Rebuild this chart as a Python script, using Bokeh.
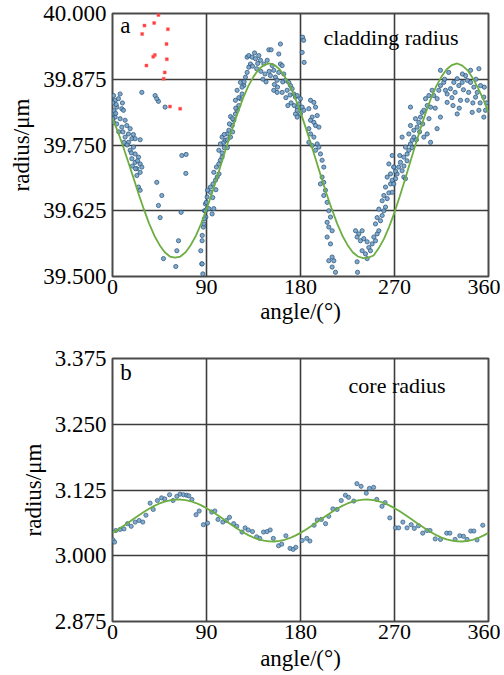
from bokeh.plotting import figure
from bokeh.layouts import column
from bokeh.models import Range1d, FixedTicker, PrintfTickFormatter, Label
from bokeh.embed import file_html
from bokeh.resources import INLINE

FONT = "Liberation Serif"
AX_FONT = "'Liberation Serif', 'Times New Roman', serif"

# ---------------- data ----------------
angle_ticks = [0, 90, 180, 270, 360]
clad_ticks = [39.5, 39.625, 39.75, 39.875, 40.0]
core_ticks = [2.875, 3.0, 3.125, 3.25, 3.375]

fit_angle = [0, 5, 10, 15, 20, 25, 30, 35, 40, 45, 50, 55, 60, 65, 70, 75, 80, 85, 90,
             95, 100, 105, 110, 115, 120, 125, 130, 135, 140, 145, 150, 155, 160, 165, 170, 175, 180,
             185, 190, 195, 200, 205, 210, 215, 220, 225, 230, 235, 240, 245, 250, 255, 260, 265, 270,
             275, 280, 285, 290, 295, 300, 305, 310, 315, 320, 325, 330, 335, 340, 345, 350, 355, 360]
clad_fit = [39.800, 39.776, 39.748, 39.718, 39.688, 39.657, 39.628, 39.601, 39.578, 39.560,
            39.546, 39.538, 39.536, 39.538, 39.546, 39.560, 39.578, 39.601, 39.628,
            39.657, 39.688, 39.720, 39.752, 39.783, 39.812, 39.839, 39.862, 39.880,
            39.894, 39.902, 39.905, 39.902, 39.894, 39.880, 39.862, 39.839, 39.812,
            39.783, 39.752, 39.720, 39.688, 39.657, 39.628, 39.601, 39.578, 39.560,
            39.546, 39.538, 39.535, 39.536, 39.540, 39.554, 39.572, 39.595, 39.622,
            39.652, 39.684, 39.717, 39.750, 39.782, 39.812, 39.839, 39.862, 39.880,
            39.894, 39.902, 39.905, 39.901, 39.892, 39.877, 39.858, 39.837, 39.812]
core_fit = [3.0435, 3.0495, 3.0560, 3.0628, 3.0698, 3.0767, 3.0833, 3.0894, 3.0948, 3.0994,
            3.1030, 3.1054, 3.1068, 3.1069, 3.1058, 3.1036, 3.1002, 3.0958, 3.0905,
            3.0845, 3.0780, 3.0712, 3.0642, 3.0573, 3.0507, 3.0446, 3.0392, 3.0346,
            3.0310, 3.0286, 3.0272, 3.0271, 3.0282, 3.0304, 3.0338, 3.0382, 3.0435,
            3.0495, 3.0560, 3.0628, 3.0698, 3.0767, 3.0833, 3.0894, 3.0948, 3.0994,
            3.1030, 3.1054, 3.1068, 3.1069, 3.1058, 3.1036, 3.1002, 3.0958, 3.0905,
            3.0845, 3.0780, 3.0712, 3.0642, 3.0573, 3.0507, 3.0446, 3.0392, 3.0346,
            3.0310, 3.0286, 3.0272, 3.0271, 3.0282, 3.0304, 3.0338, 3.0382, 3.0435]

# outlier points (red)
clad_red = [(44.0, 39.997), (30.6, 39.977), (39.9, 39.982), (53.0, 39.970), (28.4, 39.961),
            (51.7, 39.942), (40.5, 39.921), (39.0, 39.918), (52.0, 39.913), (32.5, 39.901),
            (50.0, 39.888), (49.0, 39.876), (55.0, 39.823), (64.8, 39.819)]

# measured cladding radius (blue)
clad_pts_a = [(1.0, 39.844), (2.6, 39.835), (7.3, 39.847), (5.7, 39.838), (4.1, 39.822), (8.9, 39.819),
              (1.0, 39.809), (2.6, 39.803), (10.5, 39.816), (7.3, 39.800), (12.1, 39.797), (1.0, 39.793),
              (13.7, 39.787), (8.9, 39.784), (16.9, 39.781), (15.3, 39.771), (12.1, 39.765), (18.5, 39.762),
              (21.7, 39.762), (26.5, 39.760), (15.3, 39.755), (20.1, 39.746), (16.9, 39.740), (21.7, 39.733),
              (24.9, 39.727), (18.5, 39.724), (21.7, 39.717), (26.5, 39.714), (23.3, 39.705), (26.5, 39.698),
              (28.1, 39.708), (23.3, 39.692), (0.5, 39.830), (1.5, 39.815), (3.0, 39.810), (0.3, 39.800),
              (4.0, 39.790), (6.0, 39.775), (10.0, 39.775), (11.0, 39.755), (14.0, 39.750), (18.0, 39.735),
              (19.0, 39.710), (22.0, 39.705), (24.0, 39.720), (20.0, 39.770), (3.5, 39.827), (9.5, 39.830),
              (28.1, 39.850), (40.8, 39.844), (44.0, 39.833), (42.4, 39.838), (50.4, 39.822), (66.4, 39.730),
              (70.5, 39.732), (70.2, 39.696), (42.4, 39.679), (24.9, 39.670), (26.5, 39.664), (47.2, 39.654),
              (44.0, 39.635), (45.6, 39.612), (65.7, 39.622), (63.2, 39.568), (61.6, 39.549), (48.8, 39.534),
              (60.6, 39.519), (85.5, 39.524), (84.5, 39.549), (85.9, 39.578), (87.0, 39.594), (89.4, 39.613),
              (88.0, 39.625), (89.0, 39.638), (86.5, 39.505)]
clad_pts_b = [(85.8, 39.568), (87.4, 39.600), (88.0, 39.610), (89.0, 39.625), (90.6, 39.629), (92.2, 39.629),
              (89.8, 39.641), (90.6, 39.651), (93.8, 39.660), (95.4, 39.619), (97.0, 39.629), (93.8, 39.670),
              (96.2, 39.676), (98.6, 39.683), (100.2, 39.689), (97.0, 39.698), (99.5, 39.708), (101.8, 39.714),
              (103.3, 39.721), (104.9, 39.727), (101.8, 39.740), (103.3, 39.752), (106.5, 39.755), (108.2, 39.759),
              (104.9, 39.765), (109.8, 39.771), (111.4, 39.778), (113.0, 39.765), (114.6, 39.787), (116.1, 39.797),
              (113.0, 39.804), (117.7, 39.809), (119.3, 39.816), (120.9, 39.825), (117.7, 39.835), (122.5, 39.838),
              (124.1, 39.847), (119.3, 39.854), (125.7, 39.863), (122.5, 39.869), (127.3, 39.879), (128.9, 39.888),
              (130.5, 39.898), (132.1, 39.904), (128.9, 39.917), (130.5, 39.920), (133.7, 39.917), (136.9, 39.914),
              (140.1, 39.920), (141.7, 39.911), (144.9, 39.904), (148.1, 39.911), (149.7, 39.931), (151.9, 39.931),
              (152.9, 39.901), (154.4, 39.892), (151.2, 39.882), (156.0, 39.879), (157.6, 39.873), (159.2, 39.888),
              (160.8, 39.942), (159.2, 39.923), (160.8, 39.904), (162.4, 39.901), (164.0, 39.885), (165.6, 39.873),
              (154.4, 39.854), (157.6, 39.850), (162.4, 39.850), (167.2, 39.854), (168.8, 39.869), (170.4, 39.863),
              (172.0, 39.857), (173.6, 39.847), (175.2, 39.841), (167.9, 39.825), (176.8, 39.822), (175.2, 39.809),
              (176.8, 39.803), (85.8, 39.524), (134.0, 39.900), (138.0, 39.895), (142.0, 39.890), (146.0, 39.885),
              (150.0, 39.890), (144.0, 39.875), (139.0, 39.905), (136.0, 39.925), (147.0, 39.870), (155.0, 39.865),
              (158.0, 39.860), (163.0, 39.870), (170.0, 39.845), (171.0, 39.830), (174.0, 39.825), (166.0, 39.840),
              (96.0, 39.650), (99.0, 39.665), (102.0, 39.695), (105.0, 39.735), (107.0, 39.745), (110.0, 39.760),
              (112.0, 39.790), (115.0, 39.800), (118.0, 39.820), (121.0, 39.840), (124.0, 39.860), (126.0, 39.870),
              (110.0, 39.745), (107.0, 39.770), (115.0, 39.775), (91.0, 39.664)]
clad_pts_c = [(182.0, 39.955), (183.0, 39.949), (181.6, 39.926), (183.5, 39.907), (176.8, 39.844), (180.0, 39.838),
              (178.4, 39.828), (181.6, 39.822), (176.8, 39.816), (180.0, 39.809), (183.2, 39.816), (189.6, 39.835),
              (188.0, 39.819), (192.8, 39.831), (194.4, 39.822), (191.2, 39.803), (189.6, 39.797), (192.8, 39.793),
              (196.0, 39.806), (194.4, 39.787), (197.6, 39.784), (188.0, 39.781), (189.6, 39.771), (192.8, 39.765),
              (188.0, 39.755), (191.2, 39.749), (196.0, 39.752), (197.6, 39.746), (194.4, 39.740), (199.1, 39.733),
              (200.7, 39.721), (202.3, 39.708), (200.7, 39.689), (202.3, 39.679), (199.1, 39.676), (203.9, 39.664),
              (202.3, 39.654), (205.5, 39.641), (207.1, 39.625), (208.7, 39.613), (205.5, 39.603), (207.1, 39.594),
              (210.3, 39.587), (205.5, 39.575), (208.7, 39.562), (207.1, 39.530), (211.9, 39.530), (210.3, 39.518),
              (213.5, 39.508), (210.3, 39.537), (234.6, 39.508),
              (232.7, 39.587), (235.8, 39.581), (239.0, 39.587), (234.2, 39.575), (237.4, 39.568), (240.6, 39.572),
              (243.8, 39.566), (245.4, 39.555), (248.6, 39.562), (251.8, 39.568), (239.0, 39.549), (242.2, 39.543),
              (234.2, 39.528), (243.8, 39.534), (247.0, 39.549), (250.2, 39.575), (253.4, 39.581), (255.0, 39.587),
              (251.8, 39.600), (256.6, 39.606), (253.4, 39.612), (258.2, 39.616), (259.8, 39.625), (255.0, 39.628),
              (261.4, 39.632), (258.2, 39.644), (263.0, 39.648), (259.8, 39.654), (264.6, 39.659), (261.4, 39.670),
              (266.2, 39.676), (267.8, 39.683), (263.0, 39.689), (266.2, 39.695), (269.4, 39.708), (267.8, 39.730),
              (264.6, 39.714)]
clad_pts_d = [(267.8, 39.660), (269.3, 39.676), (271.0, 39.686), (272.5, 39.695), (269.3, 39.708), (274.0, 39.708),
              (277.3, 39.701), (278.9, 39.689), (280.5, 39.686), (275.7, 39.717), (278.9, 39.727), (282.1, 39.733),
              (283.7, 39.740), (280.5, 39.746), (285.3, 39.752), (286.9, 39.759), (288.5, 39.765), (277.3, 39.765),
              (283.7, 39.771), (288.5, 39.778), (291.7, 39.784), (293.3, 39.793), (285.3, 39.787), (290.1, 39.800),
              (294.9, 39.803), (296.5, 39.812), (298.1, 39.816), (301.3, 39.825), (304.5, 39.822), (299.7, 39.838),
              (302.9, 39.844), (306.0, 39.854), (307.6, 39.844), (310.8, 39.838), (312.4, 39.854), (314.0, 39.863),
              (317.2, 39.869), (318.8, 39.854), (320.4, 39.847), (323.6, 39.857), (326.8, 39.869), (330.0, 39.876),
              (331.6, 39.863), (334.8, 39.869), (338.0, 39.882), (339.6, 39.873), (342.8, 39.869), (346.0, 39.860),
              (349.2, 39.850), (352.4, 39.863), (355.5, 39.841), (357.1, 39.816), (350.8, 39.816), (344.4, 39.812),
              (330.0, 39.809), (320.4, 39.831), (314.0, 39.892), (321.9, 39.888), (342.8, 39.892), (350.8, 39.895),
              (333.2, 39.835), (339.6, 39.835), (347.6, 39.841), (355.5, 39.803), (310.8, 39.781), (314.0, 39.803),
              (304.5, 39.755), (298.1, 39.765), (301.3, 39.771), (285.3, 39.822), (325.0, 39.840), (328.0, 39.850),
              (336.0, 39.855), (341.0, 39.850), (345.0, 39.830), (352.0, 39.830), (358.0, 39.830), (318.0, 39.875),
              (335.0, 39.885), (348.0, 39.875), (356.0, 39.860), (326.0, 39.825), (332.0, 39.820), (309.0, 39.820),
              (303.0, 39.800), (297.0, 39.790), (294.0, 39.775), (291.0, 39.760), (287.0, 39.745), (282.0, 39.720),
              (279.0, 39.710), (271.0, 39.700), (275.0, 39.730)]

# measured core radius (blue)
core_pts = [(0.5, 3.030), (2.0, 3.026), (3.2, 3.048), (7.3, 3.050), (11.0, 3.051), (14.4, 3.061), (17.9, 3.056),
            (21.7, 3.064), (25.5, 3.067), (29.0, 3.064), (32.0, 3.077), (36.0, 3.100), (39.0, 3.088),
            (43.0, 3.105), (47.0, 3.110), (50.0, 3.108), (54.6, 3.116), (58.0, 3.105), (61.6, 3.113),
            (64.7, 3.117), (68.0, 3.116), (71.0, 3.115), (73.0, 3.114), (76.0, 3.107), (80.0, 3.078),
            (83.0, 3.085), (87.0, 3.059), (91.0, 3.062), (95.0, 3.083), (98.0, 3.085), (101.0, 3.069),
            (105.6, 3.064), (109.0, 3.067), (112.0, 3.073), (116.0, 3.061), (119.0, 3.056), (124.0, 3.045),
            (127.0, 3.053), (130.0, 3.049), (134.0, 3.046), (138.0, 3.036), (141.0, 3.033), (144.6, 3.045),
            (148.0, 3.046), (151.0, 3.049), (154.0, 3.033), (159.0, 3.019), (162.0, 3.022), (166.0, 3.038),
            (170.0, 3.014), (173.0, 3.012), (175.5, 3.016), (181.6, 3.029), (186.0, 3.033), (189.0, 3.028),
            (193.0, 3.058), (196.0, 3.068), (200.0, 3.069), (204.0, 3.061), (207.0, 3.075), (211.0, 3.089),
            (215.0, 3.088), (219.0, 3.105), (223.0, 3.115), (226.0, 3.111), (231.0, 3.104), (234.0, 3.137),
            (238.0, 3.132), (243.0, 3.119), (246.0, 3.128), (250.0, 3.130), (253.0, 3.107), (258.0, 3.094),
            (261.0, 3.101), (265.5, 3.072), (271.0, 3.053), (274.0, 3.053), (278.0, 3.064), (282.0, 3.053),
            (286.0, 3.059), (289.0, 3.052), (293.0, 3.057), (297.0, 3.043), (301.0, 3.048), (304.0, 3.048),
            (309.0, 3.032), (314.0, 3.031), (320.0, 3.043), (323.0, 3.043), (328.0, 3.031), (332.5, 3.038),
            (336.0, 3.037), (339.5, 3.031), (343.0, 3.047), (346.0, 3.047), (349.0, 3.030), (354.5, 3.058)]

# ---------------- styling helpers ----------------
BLUE_FILL = "#76a2c8"
BLUE_LINE = "#2f5a7f"
GREEN = "#6dae40"
GRID = "#3c3c3c"


def make_fig(y0, y1, yticks, height, top, bottom, tick_std, label_std):
    p = figure(width=500, height=height, output_backend="svg", toolbar_location=None,
               x_range=Range1d(0, 360), y_range=Range1d(y0, y1),
               min_border_left=112, min_border_right=12, min_border_top=top, min_border_bottom=bottom,
               background_fill_color="white", border_fill_color="white")
    p.outline_line_color = "#4a4a4a"
    p.outline_line_width = 2
    p.xaxis.ticker = FixedTicker(ticks=angle_ticks)
    p.yaxis.ticker = FixedTicker(ticks=yticks)
    p.yaxis.formatter = PrintfTickFormatter(format="%.3f")
    p.axis.axis_line_color = None
    p.axis.major_tick_line_color = None
    p.axis.minor_tick_line_color = None
    p.axis.major_tick_out = 0
    p.axis.major_tick_in = 0
    p.axis.minor_tick_out = 0
    p.axis.minor_tick_in = 0
    p.axis.major_label_text_font = AX_FONT
    p.axis.major_label_text_color = "black"
    p.axis.axis_label_text_font = AX_FONT
    p.axis.axis_label_text_font_style = "normal"
    p.axis.axis_label_text_color = "black"
    p.axis.axis_label_text_font_size = "23px"
    p.xaxis.major_label_text_font_size = "22px"
    p.yaxis.major_label_text_font_size = "23px"
    p.xaxis.major_label_standoff = tick_std
    p.yaxis.major_label_standoff = 6
    p.xaxis.axis_label = "angle/(°)"
    p.yaxis.axis_label = "radius/μm"
    p.xaxis.axis_label_standoff = label_std
    p.yaxis.axis_label_standoff = 6
    p.xgrid.ticker = FixedTicker(ticks=angle_ticks)
    p.ygrid.ticker = FixedTicker(ticks=yticks)
    p.grid.grid_line_color = GRID
    p.grid.grid_line_width = 1.6
    p.grid.grid_line_alpha = 1.0
    return p


# ---------------- panel a ----------------
p1 = make_fig(39.5, 40.0, clad_ticks, 336, 13, 60, 3, 2)
clad_all = clad_pts_a + clad_pts_b + clad_pts_c + clad_pts_d
p1.scatter([a for a, r in clad_all], [r for a, r in clad_all], marker="circle", size=4.2,
           fill_color=BLUE_FILL, line_color=BLUE_LINE, line_width=1, fill_alpha=0.9, line_alpha=0.8)
p1.scatter([a for a, r in clad_red], [r for a, r in clad_red], marker="square", size=3,
           fill_color="#ff3b3b", line_color="#ff6b6b", line_width=0.5)
p1.line(fit_angle, clad_fit, line_color=GREEN, line_width=1.8)
p1.add_layout(Label(x=7.5, y=39.954, text="a", text_font=FONT, text_font_size="23px",
                    text_color="black"))
p1.add_layout(Label(x=202, y=39.930, text="cladding radius", text_font=FONT,
                    text_font_size="22px", text_color="black"))

# ---------------- panel b ----------------
p2 = make_fig(2.875, 3.375, core_ticks, 339, 22, 54, 3, 4)
p2.scatter([a for a, r in core_pts], [r for a, r in core_pts], marker="circle", size=4.2,
           fill_color=BLUE_FILL, line_color=BLUE_LINE, line_width=1, fill_alpha=0.9, line_alpha=0.7)
p2.line(fit_angle, core_fit, line_color=GREEN, line_width=1.8)
p2.add_layout(Label(x=7.5, y=3.324, text="b", text_font=FONT, text_font_size="23px",
                    text_color="black"))
p2.add_layout(Label(x=226, y=3.299, text="core radius", text_font=FONT,
                    text_font_size="22px", text_color="black"))

layout = column(p1, p2, spacing=0)

open("out.html", "w").write(file_html(layout, INLINE))
